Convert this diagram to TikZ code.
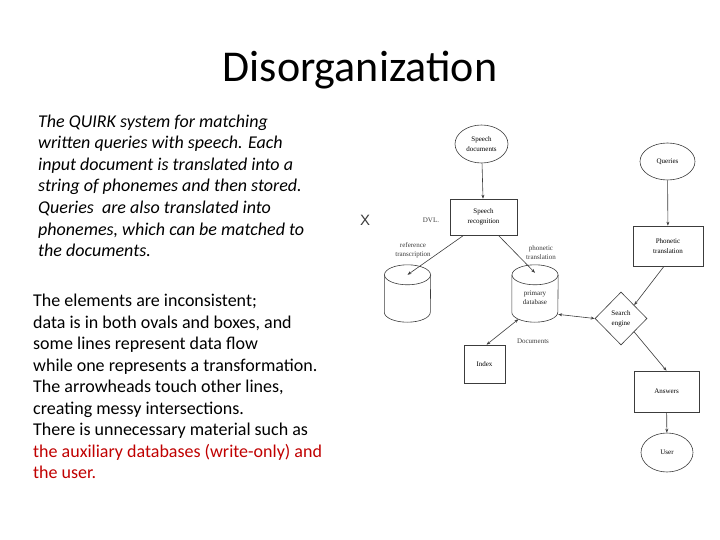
\documentclass[tikz,border=0pt]{standalone}
\usepackage{fontspec}
\setmainfont{Carlito}
\newfontfamily\scanfont{Liberation Serif}
\newfontfamily\markfont{Liberation Sans}
\usetikzlibrary{positioning,shapes.geometric,arrows.meta}
\definecolor{inkgray}{RGB}{60,60,60}
\definecolor{notered}{RGB}{192,0,0}
% outline of a database drum round a named node
\newcommand{\dbdrum}[1]{%
  \draw[inkgray, line width=0.6pt] ([yshift=-10pt]#1.north) ellipse [x radius=23pt, y radius=10pt];
  \draw[inkgray, line width=0.6pt] ([yshift=-10pt]#1.north west) -- ([yshift=10pt]#1.south west)
    arc[start angle=180, end angle=360, x radius=23pt, y radius=10pt] -- ([yshift=-10pt]#1.north east);}

\begin{document}
\begin{tikzpicture}[
    x=1pt, y=-1pt,
    every node/.style={inner sep=0pt},
    proc/.style={rectangle, draw=inkgray, line width=0.6pt, align=center, font=\scanfont\fontsize{7}{10}\selectfont},
    store/.style={ellipse, draw=inkgray, line width=0.6pt, align=center, font=\scanfont\fontsize{7}{10}\selectfont},
    db/.style={rectangle, minimum width=46pt, minimum height=57pt},
    decide/.style={diamond, draw=inkgray, line width=0.6pt, minimum width=52pt, minimum height=53pt, align=center, font=\scanfont\fontsize{7}{10}\selectfont},
    note/.style={align=center, text=inkgray, font=\scanfont\fontsize{7}{9}\selectfont},
    flow/.style={-{Stealth[length=4pt,width=3pt]}, draw=inkgray, line width=0.6pt},
    twoway/.style={{Stealth[length=4pt,width=3pt]}-{Stealth[length=4pt,width=3pt]}, draw=inkgray, line width=0.6pt}
]
\useasboundingbox (0,0) rectangle (720,540);

% slide text
\node[anchor=base, font=\fontsize{44}{50}\selectfont] (title) at (360,82) {Disorganization};
\node[anchor=north west, align=left, font=\itshape\fontsize{18}{21.6}\selectfont] (caption) at (38,114.5)
  {The QUIRK system for matching\\
   written queries with speech. Each\\
   input document is translated into a\\
   string of phonemes and then stored.\\
   Queries\ \ are also translated into\\
   phonemes, which can be matched to\\
   the documents.};
\node[anchor=north west, align=left, font=\fontsize{18}{21.5}\selectfont] (critique) at (33,294)
  {The elements are inconsistent;\\
   data is in both ovals and boxes, and\\
   some lines represent data flow\\
   while one represents a transformation.\\
   The arrowheads touch other lines,\\
   creating messy intersections.\\
   There is unnecessary material such as\\
   \color{notered}the auxiliary databases (write-only) and\\
   \color{notered}the user.};

% QUIRK diagram
\node[store, minimum width=53pt, minimum height=38pt] (sdocs) at (481.5,144) {Speech\\documents};
\node[proc, minimum width=67pt, minimum height=36pt] (srec) at (483.5,217) {Speech\\recognition};
\node[db] (refdb) at (407.5,293.5) {};
\node[db] (pdb) at (535,293.5) {};

% the two recognition outputs
\draw[flow] ([xshift=14pt]srec.south west) -- ([yshift=-10pt]refdb.north);
\draw[flow] ([xshift=-19pt]srec.south east) -- ([yshift=-8pt]pdb.north);

\dbdrum{refdb}
\dbdrum{pdb}
\node[note, text=black!85] (pdbtext) at ([yshift=-4pt]pdb.center) {primary\\database};
\node[store, minimum width=55pt, minimum height=37pt] (queries) at (667.5,161.5) {Queries};
\node[proc, minimum width=70pt, minimum height=40pt] (phon) at (668,246) {Phonetic\\translation};
\node[decide] (search) at (621,318.5) {Search\\engine};
\node[proc, minimum width=41pt, minimum height=38pt] (index) at (484.5,364) {Index};
\node[proc, minimum width=65pt, minimum height=41pt] (answers) at (666.5,391.5) {Answers};
\node[store, minimum width=52pt, minimum height=39pt] (user) at (667,452.5) {User};

\node[note] (dvl) at (431,220) {DVL.};
\node[note] (reflbl) at (413,250) {reference\\transcription};
\node[note] (phonlbl) at (541,253) {phonetic\\translation};
\node[note] (doclbl) at (533,341) {Documents};
\node[font=\markfont\fontsize{15}{15}\selectfont, text=inkgray] (xmark) at (365,220) {X};

\draw[flow] (sdocs) -- (srec);
\draw[flow] (queries) -- (phon);
\draw[flow] ([xshift=-4pt]phon.south) -- (search.north east);
\draw[twoway] (pdb.-42) -- (search.west);
\draw[twoway] ([yshift=3pt]pdb.-120) -- ([xshift=2pt]index.north);
\draw[flow] (search.south east) -- (answers.north);
\draw[flow] (answers) -- (user);

\end{tikzpicture}
\end{document}
